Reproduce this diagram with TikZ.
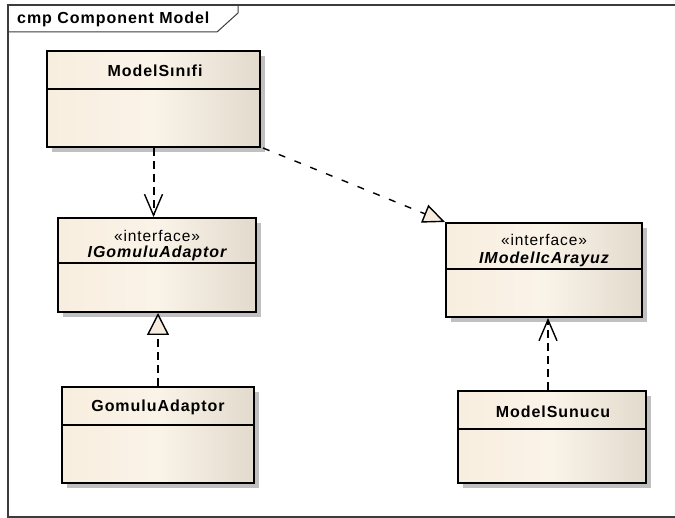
\documentclass[tikz,border=0pt]{standalone}
\usepackage{fontspec}
\setmainfont{Liberation Sans}
\newfontfamily\lbl[LetterSpace=6]{Liberation Sans}
\usetikzlibrary{arrows.meta,shadows,calc}
\definecolor{creamL}{RGB}{248,238,223}
\definecolor{creamR}{RGB}{226,218,204}
\definecolor{tipfill}{RGB}{245,236,222}
\definecolor{shadowgray}{RGB}{192,192,192}
\definecolor{framegray}{RGB}{60,60,60}
\tikzset{
  cls/.style={draw=black, line width=2pt, left color=creamL, right color=creamR,
    middle color=creamL!70!white, shading angle=90,
    drop shadow={shadow xshift=5pt, shadow yshift=-5pt, fill=shadowgray, opacity=1},
    inner sep=0pt, anchor=center},
  divider/.style={line width=1.8pt},
  clsname/.style={font=\lbl\fontsize{16}{19}\selectfont\bfseries, inner sep=0pt},
  iclsname/.style={font=\lbl\fontsize{16}{19}\selectfont\bfseries\itshape, inner sep=0pt},
  stereo/.style={font=\lbl\fontsize{15.5}{18}\selectfont, inner sep=0pt},
  depline/.style={line width=2pt, dash pattern=on 8pt off 5pt},
  dep/.style={depline, -{Straight Barb[length=21pt, width=18pt, line width=1.4pt]}},
  real/.style={depline, -{Triangle[open, length=22pt, width=22pt, line width=1.4pt, fill=tipfill]}},
  realthin/.style={line width=1.4pt, dash pattern=on 7pt off 10pt,
    -{Triangle[open, length=22pt, width=19pt, line width=1.4pt, fill=tipfill]}},
}
\begin{document}
\begin{tikzpicture}[x=1pt,y=-1pt]
\useasboundingbox (0,0) rectangle (675,518);
% frame
\draw[framegray, line width=1.5pt] (8,5) rectangle (680,517);
\draw[framegray, line width=1pt] (8,32) -- (217,32) -- (238,13) -- (238,5);
\node[clsname, anchor=west] (title) at (17,19) {cmp Component Model};

% boxes
\node[cls, minimum width=213pt, minimum height=96pt] (ms) at (153.5,99) {};
\node[cls, minimum width=198pt, minimum height=94pt] (ig) at (157,265) {};
\node[cls, minimum width=192pt, minimum height=96pt] (ga) at (158,435) {};
\node[cls, minimum width=196pt, minimum height=94pt] (ia) at (544,270) {};
\node[cls, minimum width=188pt, minimum height=92pt] (su) at (552,437) {};

% dividers
\draw[divider] (47,89) -- (260,89);
\draw[divider] (58,263) -- (256,263);
\draw[divider] (62,425) -- (254,425);
\draw[divider] (446,269) -- (642,269);
\draw[divider] (458,429) -- (646,429);

% labels
\node[clsname] (msl) at (155,71) {ModelSınıfi};
\node[stereo] (igs) at (157,236) {«interface»};
\node[iclsname] (igl) at (157,253) {IGomuluAdaptor};
\node[clsname] (gal) at (158,407) {GomuluAdaptor};
\node[stereo] (ias) at (544,240) {«interface»};
\node[iclsname] (ial) at (544,259) {IModelIcArayuz};
\node[clsname] (sul) at (553,412) {ModelSunucu};

% connectors
\draw[dep] (ms.south) -- (ms.south |- ig.north);
\draw[real] (ga.north) -- (ga.north |- ig.south);
\draw[dep] ([xshift=-4pt]su.north) -- ([xshift=-4pt]su.north |- ia.south);
\draw[realthin] ([xshift=2pt]ms.south east) -- (ia.north west);
\end{tikzpicture}
\end{document}
